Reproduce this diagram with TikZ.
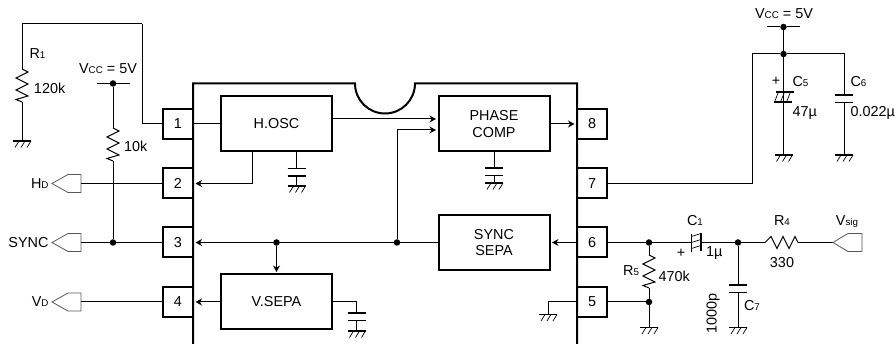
\documentclass[tikz,border=0pt]{standalone}
\usepackage{fontspec}
\setmainfont{Liberation Sans}
\usetikzlibrary{arrows.meta}
\newcommand{\lbl}{\fontsize{14.4}{16.5}\selectfont}
\newcommand{\sml}[1]{{\fontsize{9.8}{10}\selectfont #1}}
\tikzset{
  wire/.style={line width=1pt},
  sig/.style={-{Stealth[length=6.5pt,width=7pt]},shorten >=2.5pt},
  plate/.style={line width=1.7pt},
  icline/.style={line width=2pt},
  termline/.style={line width=0.8pt,black!65},
  pinbox/.style={draw,line width=2pt,minimum width=30pt,minimum height=30pt,inner sep=0pt,outer sep=0pt,font=\lbl},
  blockbox/.style={draw,line width=2pt,minimum width=111pt,minimum height=55pt,inner sep=0pt,outer sep=0pt,align=center,font=\lbl},
  dot/.style={circle,fill=black,minimum size=6.5pt,inner sep=0pt,outer sep=0pt},
  txt/.style={inner sep=0pt,outer sep=0pt,font=\lbl},
  gnd/.pic={
    \draw[plate] (-9,0) -- (9,0);
    \draw[line width=0.7pt] (-3,0) -- (-7,6.5) (3,0) -- (-1,6.5) (9,0) -- (5,6.5);
  },
  capv/.pic={
    \fill[white] (-9,0) rectangle (9,7.5);
    \draw[plate] (-9,0) -- (9,0) (-9,7.5) -- (9,7.5);
  },
  polv/.pic={
    \draw[plate] (-8,0) -- (10,0) (-9.5,10) -- (8.5,10);
    \draw[line width=0.7pt] (-5,0) -- (-9,10) (1,0) -- (-3,10) (7,0) -- (3,10);
  },
  polh/.pic={
    \draw[plate] (0,-8.5) -- (0,9.5) (9.5,-9.5) -- (9.5,8.5);
    \draw[line width=0.7pt] (0,-6) -- (9.5,-9) (0,0) -- (9.5,-3) (0,6) -- (9.5,3);
  },
  resv/.pic={
    \draw[wire] (0,0) -- (6,3) -- (-6,9) -- (6,15) -- (-6,21) -- (6,27) -- (-6,30.5) -- (0,33);
  },
  resh/.pic={
    \draw[wire] (0,0) -- (6,-6) -- (12,6) -- (18,-6) -- (24,6) -- (30,-6) -- (33,0);
  },
}
\begin{document}
\begin{tikzpicture}[x=1pt,y=-1pt]
  \useasboundingbox (0,0) rectangle (895,344);

  % package
  \draw[icline] (193,344) -- (193,83.5) -- (355,83.5) arc (180:0:30) -- (577,83.5) -- (577,344);

  \node[pinbox] (P1) at (178,124) {1};
  \node[pinbox] (P2) at (178,183.5) {2};
  \node[pinbox] (P3) at (178,242.5) {3};
  \node[pinbox] (P4) at (178,302) {4};
  \node[pinbox] (P8) at (592,124) {8};
  \node[pinbox] (P7) at (592,183.5) {7};
  \node[pinbox] (P6) at (592,242.5) {6};
  \node[pinbox] (P5) at (592,302) {5};

  \node[blockbox] (HOSC) at (276.5,124) {H.OSC};
  \node[blockbox] (PHASE) at (494,124) {PHASE\\COMP};
  \node[blockbox] (SEPA) at (494,242.5) {SYNC\\SEPA};
  \node[blockbox] (VSEPA) at (276.5,302) {V.SEPA};

  \node[dot] (J1) at (397,242.5) {};
  \node[dot] (J2) at (276.5,242.5) {};
  \node[dot] (J3) at (113,242.5) {};
  \node[dot] (J4) at (649,242.5) {};
  \node[dot] (J5) at (649,302) {};
  \node[dot] (J6) at (738,242.5) {};
  \node[dot] (J7) at (783.5,54) {};
  \node[dot] (VL) at (113,83.5) {};
  \node[dot] (VR) at (783.5,27) {};

  % inside the package
  \draw[wire] (P1.east) -- (HOSC.west);
  \draw[wire,sig] ([yshift=5pt]HOSC.east) -- ([yshift=5pt]PHASE.west);
  \draw[wire,sig] (J1) |- ([yshift=-6pt]PHASE.west);
  \draw[wire,sig] (PHASE.east) -- (P8.west);
  \draw[wire,sig] ([xshift=-24.5pt]HOSC.south) |- (P2.east);
  \draw[wire,sig] (SEPA.west) -- (P3.east);
  \draw[wire,sig] (P6.west) -- (SEPA.east);
  \draw[wire,sig] (J2) -- (VSEPA.north);
  \draw[wire,sig] (VSEPA.west) -- (P4.east);

  \coordinate (G1) at (296.5,186);
  \coordinate (G2) at (494,183);
  \coordinate (G3) at (356.5,331);
  \coordinate (G4) at (548,314.5);
  \draw[wire] (HOSC.south -| G1) -- (G1);
  \draw[wire] (PHASE.south) -- (G2);
  \draw[wire] (VSEPA.east) -| (G3);
  \draw[wire] (P5.west) -| (G4);
  \pic at (296.5,168.5) {capv};
  \pic at (494,168) {capv};
  \pic at (356.5,313) {capv};
  \pic at (G1) {gnd};
  \pic at (G2) {gnd};
  \pic at (G3) {gnd};
  \pic at (G4) {gnd};

  % left side
  \coordinate (R1a) at (22,69);
  \coordinate (R1b) at (22,102);
  \coordinate (G5) at (22,141);
  \coordinate (R2a) at (113,128);
  \coordinate (R2b) at (113,161);
  \coordinate (B1) at (142,24);
  \draw[wire] (R1a) |- (B1);
  \draw[wire] (B1) |- (P1.west);
  \draw[wire] (R1b) -- (G5);
  \pic at (R1a) {resv};
  \pic at (G5) {gnd};
  \draw[wire] (97,83.5) -- (VL) -- (129.5,83.5);
  \draw[wire] (VL) -- (R2a);
  \draw[wire] (R2b) -- (J3);
  \pic at (R2a) {resv};

  \coordinate (TH) at (81,183.5);
  \coordinate (TS) at (81,242.5);
  \coordinate (TV) at (81,302);
  \draw[termline] (TH) -- ++(0,-9) -- ++(-13,0) -- ++(-16,9) -- ++(16,9) -- ++(13,0) -- cycle;
  \draw[termline] (TS) -- ++(0,-9) -- ++(-13,0) -- ++(-16,9) -- ++(16,9) -- ++(13,0) -- cycle;
  \draw[termline] (TV) -- ++(0,-9) -- ++(-13,0) -- ++(-16,9) -- ++(16,9) -- ++(13,0) -- cycle;
  \draw[wire] (TH) -- (P2.west);
  \draw[wire] (TS) -- (P3.west);
  \draw[wire] (TV) -- (P4.west);

  % right side
  \coordinate (B2) at (752,54);
  \coordinate (C6t) at (844,95);
  \coordinate (C6b) at (844,102.5);
  \coordinate (G6) at (783.5,155);
  \coordinate (G7) at (844,155);
  \draw[wire] (P7.east) -| (B2);
  \draw[wire] (B2) -- (J7);
  \draw[wire] (J7) -| (C6t);
  \draw[wire] (C6b) -- (G7);
  \draw[wire] (J7) -- (G6);
  \draw[wire] (767,27) -- (VR) -- (800,27);
  \draw[wire] (VR) -- (J7);
  \pic at (783.5,92) {polv};
  \pic at (844,95) {capv};
  \pic at (G6) {gnd};
  \pic at (G7) {gnd};

  \coordinate (C1a) at (691.5,242.5);
  \coordinate (C1b) at (701,242.5);
  \coordinate (C7t) at (738,285);
  \coordinate (C7b) at (738,292.5);
  \coordinate (R4a) at (765,242.5);
  \coordinate (R4b) at (798,242.5);
  \coordinate (R5a) at (649,255);
  \coordinate (R5b) at (649,288);
  \coordinate (G8) at (649,327.5);
  \coordinate (G9) at (738,327.5);
  \coordinate (TSIG) at (862,242.5);
  \coordinate (TSIGb) at (833,242.5);
  \draw[wire] (P6.east) -- (J4);
  \draw[wire] (J4) -- (C1a);
  \draw[wire] (C1b) -- (J6);
  \draw[wire] (J6) -- (R4a);
  \draw[wire] (R4b) -- (TSIGb);
  \draw[wire] (J4) -- (R5a);
  \draw[wire] (R5b) -- (G8);
  \draw[wire] (P5.east) -- (J5);
  \draw[wire] (J6) -- (C7t);
  \draw[wire] (C7b) -- (G9);
  \pic at (C1a) {polh};
  \pic at (R5a) {resv};
  \pic at (R4a) {resh};
  \pic at (C7t) {capv};
  \pic at (G8) {gnd};
  \pic at (G9) {gnd};
  \draw[termline] (TSIG) -- ++(0,-9) -- ++(-14,0) -- ++(-15,9) -- ++(15,9) -- ++(14,0) -- cycle;

  % labels
  \node[txt,anchor=west] (tR1) at (29.5,54) {R\sml{1}};
  \node[txt,anchor=west] (t120) at (34,88.5) {120k};
  \node[txt] (tVL) at (108,69) {V\sml{CC} = 5V};
  \node[txt,anchor=west] (t10) at (124,146) {10k};
  \node[txt,anchor=east] (tHD) at (48.5,183.5) {H\sml{D}};
  \node[txt,anchor=east] (tSY) at (48.5,242.5) {SYNC};
  \node[txt,anchor=east] (tVD) at (48.5,301.5) {V\sml{D}};
  \node[txt] (tVR) at (784,14) {V\sml{CC} = 5V};
  \node[txt] (tPL5) at (776,81.5) {+};
  \node[txt,anchor=west] (tC5) at (792.5,82) {C\sml{5}};
  \node[txt,anchor=west] (t47) at (792.5,113) {47µ};
  \node[txt,anchor=west] (tC6) at (850.5,82) {C\sml{6}};
  \node[txt,anchor=west] (t022) at (850.5,113) {0.022µ};
  \node[txt] (tC1) at (695,221) {C\sml{1}};
  \node[txt] (tPL1) at (681,253.5) {+};
  \node[txt,anchor=west] (t1u) at (706,253.5) {1µ};
  \node[txt] (tR4) at (782,221) {R\sml{4}};
  \node[txt] (t330) at (782,262.5) {330};
  \node[txt] (tVS) at (847,222) {V\sml{sig}};
  \node[txt,anchor=east] (tR5) at (639,271) {R\sml{5}};
  \node[txt,anchor=west] (t470) at (658.5,276.5) {470k};
  \node[txt,anchor=west] (tC7) at (744,306) {C\sml{7}};
  \node[txt,rotate=90] (t1000) at (713,313.5) {1000p};
\end{tikzpicture}
\end{document}
